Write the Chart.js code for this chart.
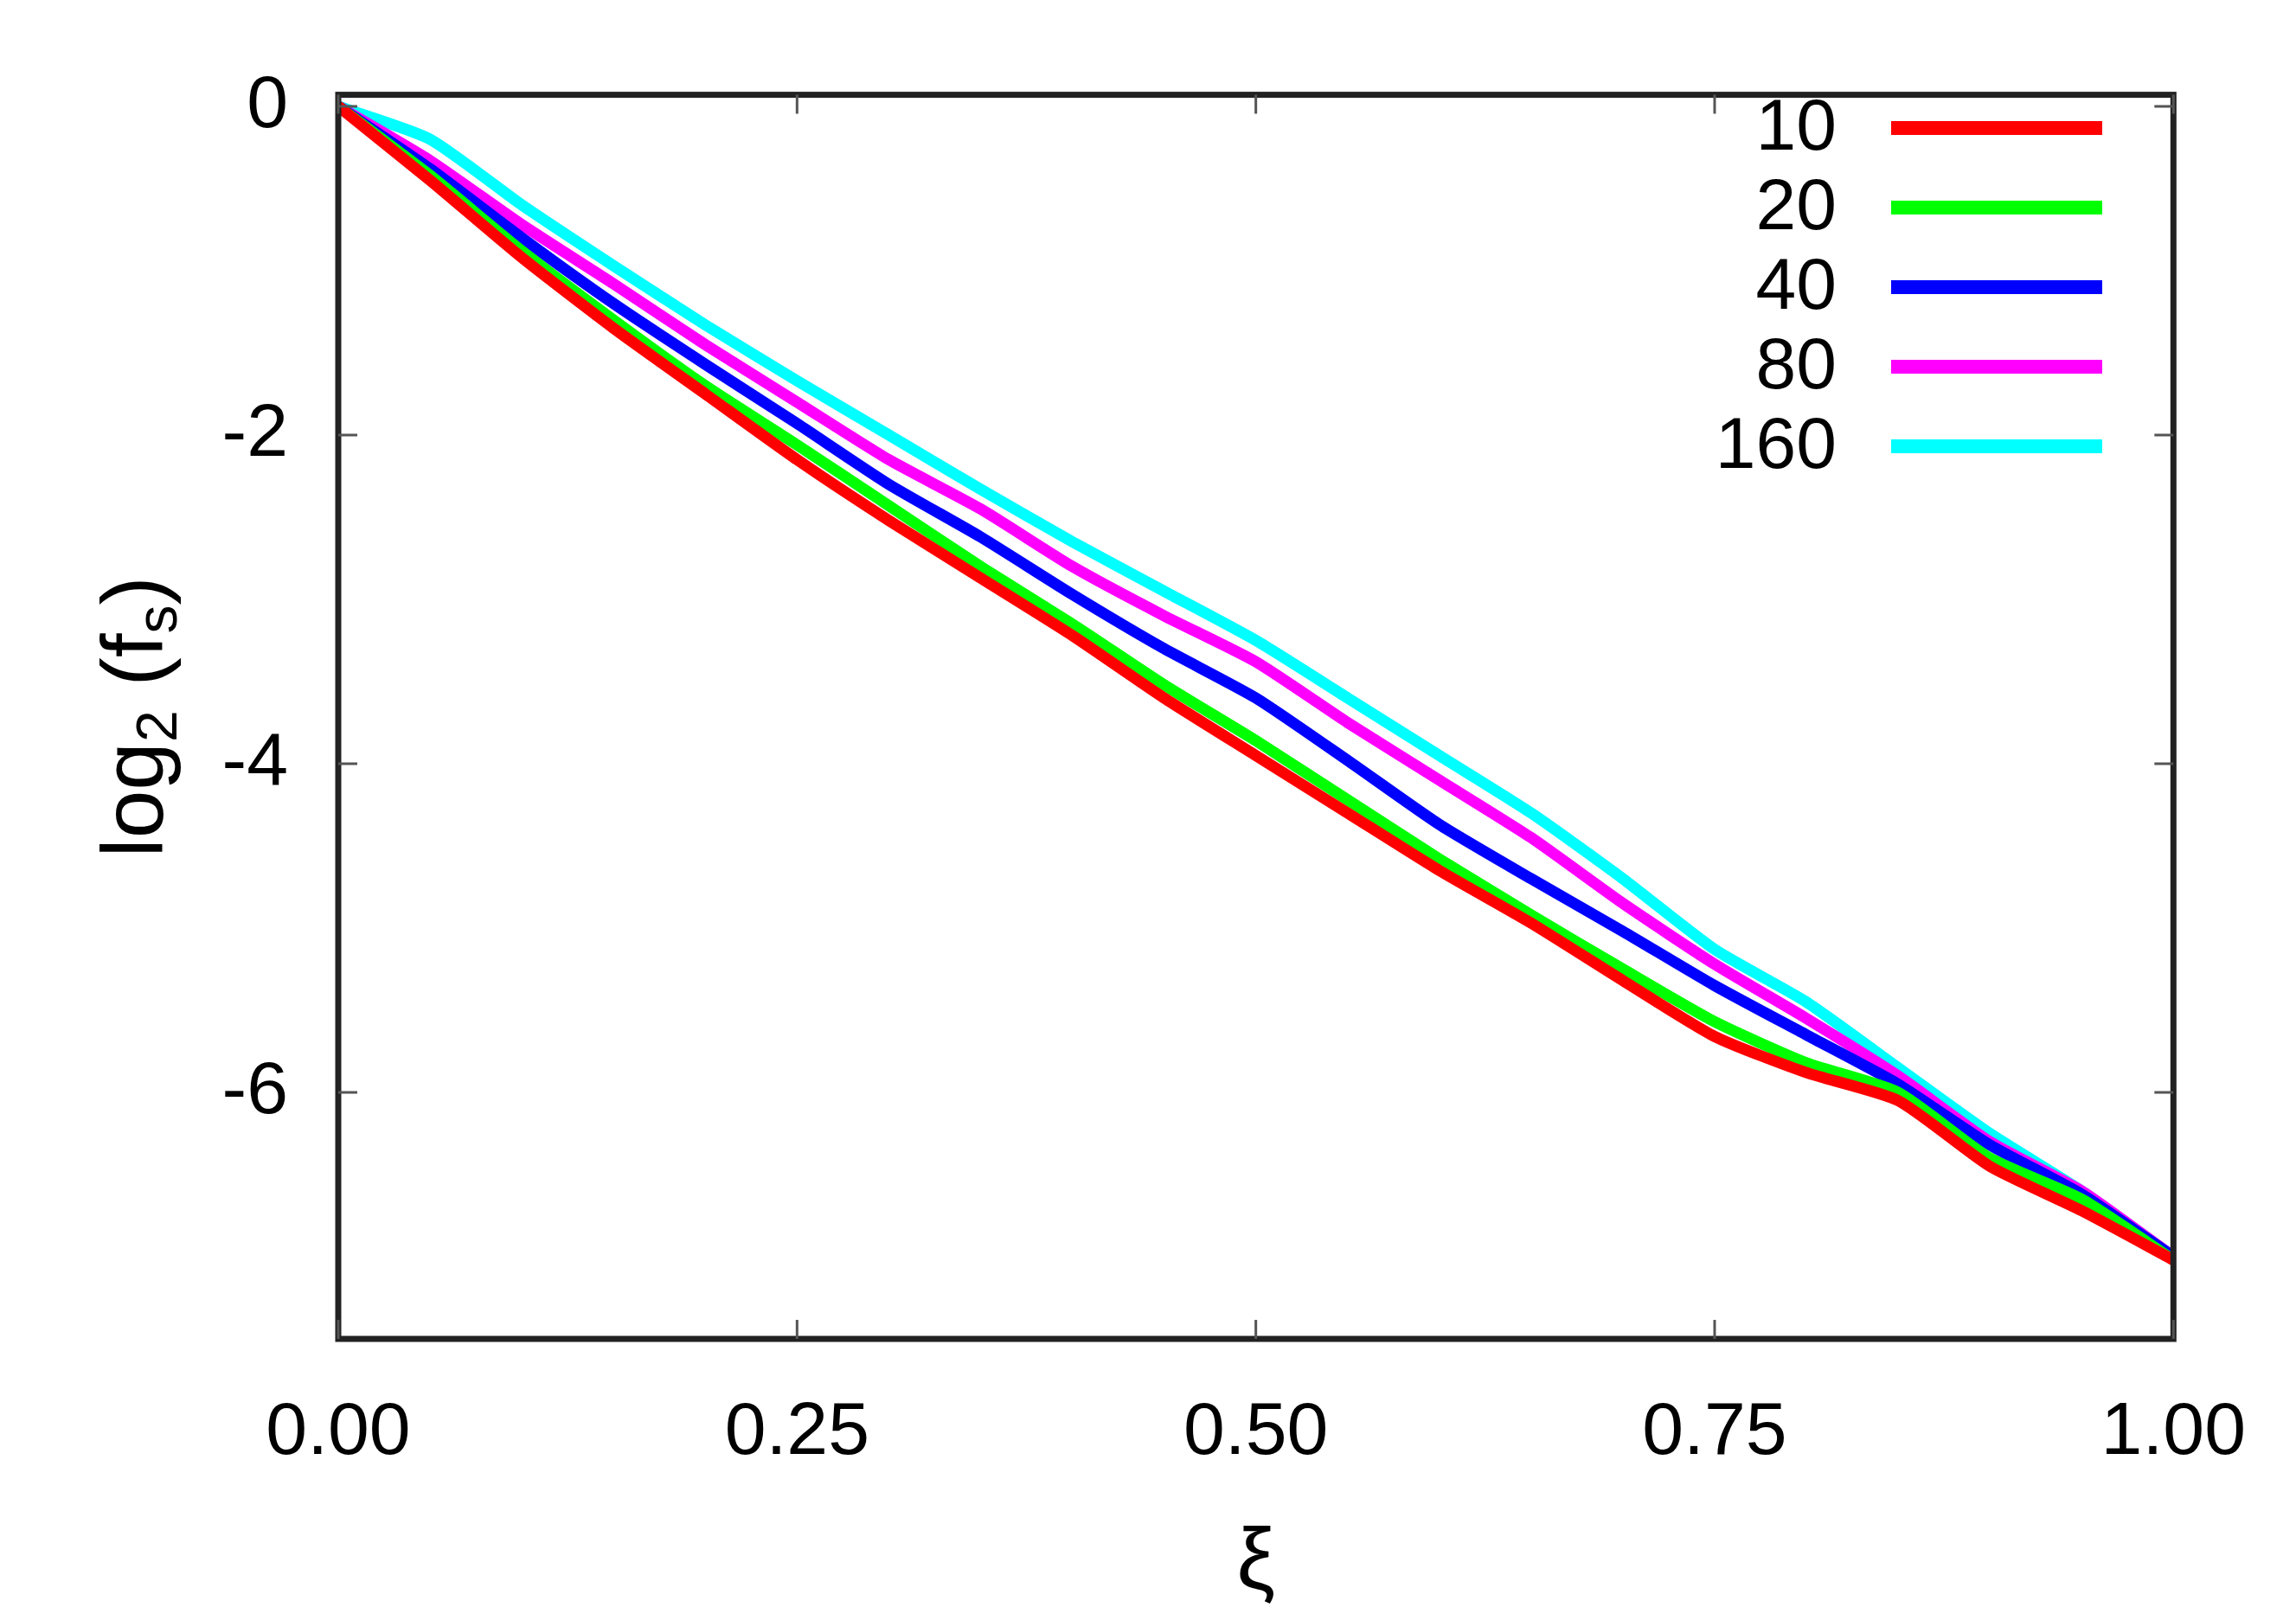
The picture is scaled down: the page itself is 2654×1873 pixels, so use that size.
<!DOCTYPE html>
<html><head><meta charset="utf-8">
<script src="https://cdn.jsdelivr.net/npm/chart.js@4"></script>
<style>html,body{margin:0;padding:0;background:#fff}#c{display:block}</style>
</head><body>
<canvas id="c" width="2654" height="1873"></canvas>
<script>
const xi = [0,0.05,0.1,0.15,0.2,0.25,0.3,0.35,0.4,0.45,0.5,0.55,0.6,0.65,0.7,0.75,0.8,0.85,0.9,0.95,1.0];
const labels = ["10","20","40","80","160"];
const colors = ["#ff0000","#00ff00","#0000ff","#ff00ff","#00ffff"];
const s10  = [0,-0.45,-0.92,-1.35,-1.75,-2.15,-2.52,-2.87,-3.22,-3.6,-3.95,-4.3,-4.65,-4.97,-5.32,-5.66,-5.88,-6.05,-6.45,-6.72,-7.02];
const s20  = [0,-0.42,-0.88,-1.3,-1.7,-2.06,-2.43,-2.8,-3.15,-3.52,-3.86,-4.22,-4.58,-4.92,-5.25,-5.57,-5.82,-6.0,-6.4,-6.65,-7.02];
const s40  = [0,-0.38,-0.8,-1.2,-1.57,-1.93,-2.3,-2.62,-2.97,-3.3,-3.6,-3.98,-4.37,-4.7,-5.02,-5.35,-5.65,-5.95,-6.32,-6.62,-7.0];
const s80  = [0,-0.33,-0.72,-1.08,-1.45,-1.8,-2.15,-2.45,-2.8,-3.1,-3.38,-3.75,-4.1,-4.45,-4.85,-5.22,-5.55,-5.9,-6.3,-6.6,-7.0];
const s160 = [0,-0.2,-0.6,-0.97,-1.33,-1.67,-2.0,-2.33,-2.65,-2.95,-3.25,-3.6,-3.95,-4.3,-4.7,-5.13,-5.45,-5.85,-6.25,-6.6,-7.0];
const series = [s10,s20,s40,s80,s160];
const xTicks = [0,0.25,0.5,0.75,1.0];
const yTicks = [-6,-4,-2,0];
const FONT = "'Liberation Sans', Arial, sans-serif";

const frame = {
  id:'frame',
  afterDraw(ch){
    const {ctx, chartArea:a, scales:{x,y}} = ch;
    ctx.save();
    ctx.strokeStyle='#222'; ctx.lineWidth=7;
    ctx.strokeRect(a.left,a.top,a.right-a.left,a.bottom-a.top);
    ctx.lineWidth=3; ctx.strokeStyle='#555';
    const L=22;
    xTicks.forEach(v=>{const p=x.getPixelForValue(v);
      ctx.beginPath();ctx.moveTo(p,a.bottom);ctx.lineTo(p,a.bottom-L);ctx.moveTo(p,a.top);ctx.lineTo(p,a.top+L);ctx.stroke();});
    yTicks.forEach(v=>{const p=y.getPixelForValue(v);
      ctx.beginPath();ctx.moveTo(a.left,p);ctx.lineTo(a.left+L,p);ctx.moveTo(a.right,p);ctx.lineTo(a.right-L,p);ctx.stroke();});
    ctx.font = "84px "+FONT; ctx.fillStyle='#000'; ctx.textAlign='right'; ctx.textBaseline='middle';
    const rows=[148,240,332,424,516];
    ch.data.datasets.forEach((d,i)=>{
      ctx.fillText(d.label,2123,rows[i]+2);
      ctx.strokeStyle=d.borderColor; ctx.lineWidth=16; ctx.lineCap='butt';
      ctx.beginPath();ctx.moveTo(2186,rows[i]);ctx.lineTo(2430,rows[i]);ctx.stroke();
    });
    ctx.translate(160, (a.top+a.bottom)/2); ctx.rotate(-Math.PI/2);
    ctx.textBaseline='middle';
    const big="100px "+FONT, small="66px "+FONT;
    const parts=[["log",big,0],["2",small,26],[" (f",big,0],["s",small,26],[")",big,0]];
    let w=0; parts.forEach(p=>{ctx.font=p[1];w+=ctx.measureText(p[0]).width;});
    let px=-w/2; ctx.textAlign='left';
    parts.forEach(p=>{ctx.font=p[1];ctx.fillText(p[0],px,p[2]);px+=ctx.measureText(p[0]).width;});
    ctx.restore();
  }
};

new Chart(document.getElementById('c'),{
  type:'line',
  data:{datasets: series.map((s,i)=>({label:labels[i], data: xi.map((v,j)=>({x:v,y:s[j]})),
    borderColor:colors[i], borderWidth:13, pointRadius:0, tension:0.2, fill:false}))},
  options:{
    responsive:false, animation:false, devicePixelRatio:1,
    layout:{padding:{top:56,right:104,left:0,bottom:0}},
    plugins:{legend:{display:false}, tooltip:{enabled:false}},
    scales:{
      x:{type:'linear', min:0, max:1,
        afterBuildTicks(s){s.ticks=xTicks.map(v=>({value:v}));},
        afterFit(s){s.height=325;},
        grid:{display:false, drawTicks:false}, border:{display:false},
        ticks:{padding:58, color:'#000', font:{family:FONT,size:86}, maxRotation:0,
          callback:v=>v.toFixed(2)},
        title:{display:true, text:'ξ', color:'#000', font:{family:FONT,size:100}, padding:{top:14}}},
      y:{type:'linear', min:-7.5, max:0.07,
        afterBuildTicks(s){s.ticks=yTicks.map(v=>({value:v}));},
        afterFit(s){s.width=391;},
        grid:{display:false, drawTicks:false}, border:{display:false},
        ticks:{padding:58, color:'#000', font:{family:FONT,size:86}, callback:v=>String(v)}}
    }
  },
  plugins:[frame]
});
</script>
</body></html>
